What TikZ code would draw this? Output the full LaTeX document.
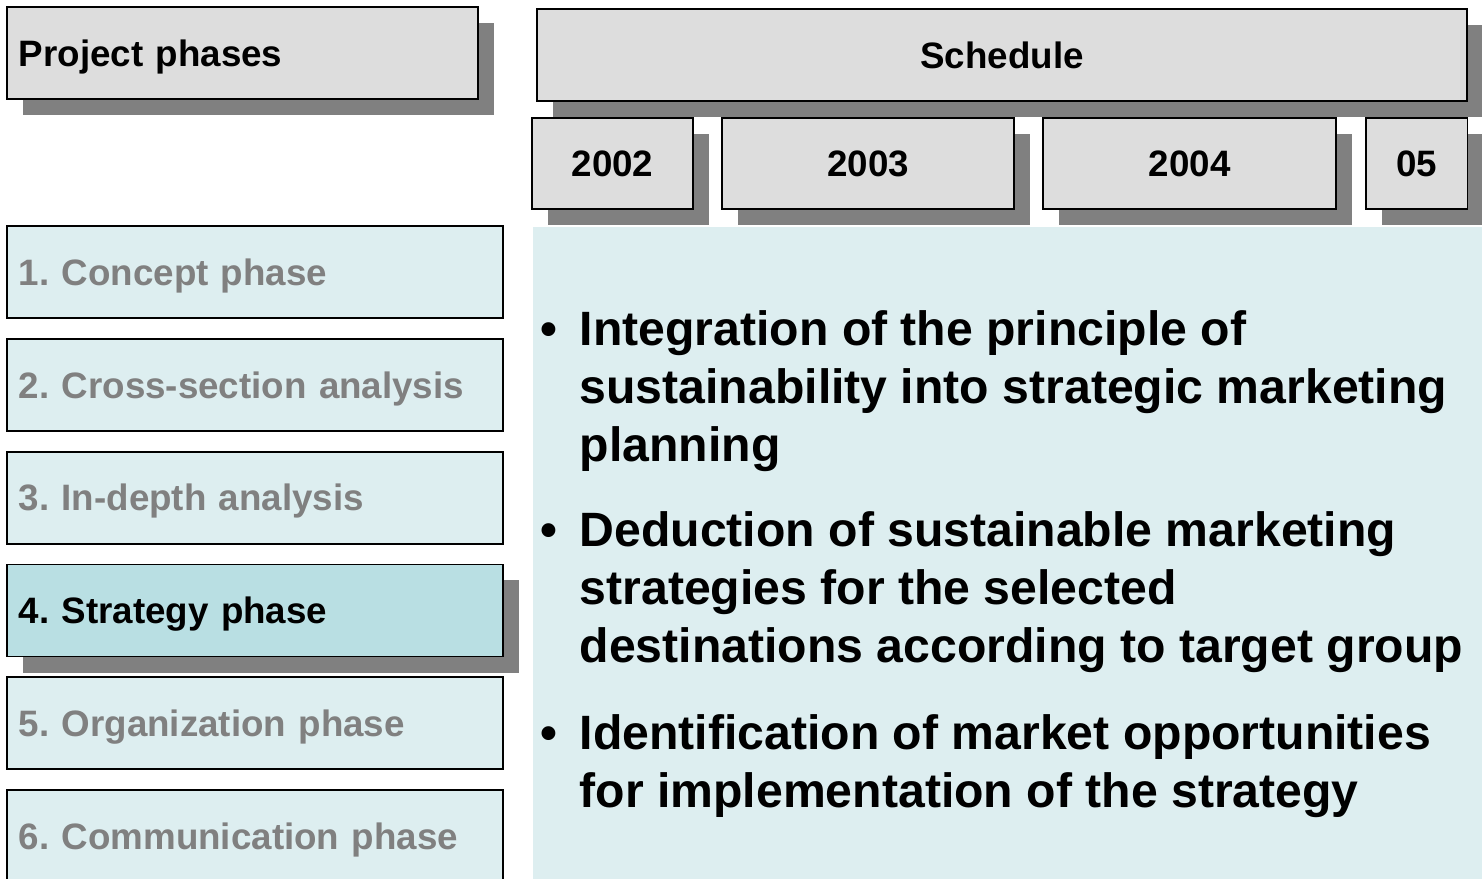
\documentclass[tikz,border=0pt]{standalone}
\usepackage{fontspec}
\setmainfont{Liberation Sans}
\usetikzlibrary{positioning,shadows}

\definecolor{panelblue}{RGB}{221,238,240}
\definecolor{activeblue}{RGB}{185,223,227}
\definecolor{headgrey}{RGB}{221,221,221}
\definecolor{shadowgrey}{RGB}{128,128,128}
\definecolor{idletext}{RGB}{128,128,128}

\newcommand\smallbold{\fontsize{10.45}{12}\selectfont\bfseries}
\newcommand\bigbold{\fontsize{13.7}{16.5}\selectfont\bfseries}

\begin{document}
\frenchspacing
\begin{tikzpicture}[x=0.01cm, y=-0.01cm, node distance=0.19cm]
    \tikzset{shadowed/.style={drop shadow={shadow xshift=0.16cm,
        shadow yshift=-0.16cm, fill=shadowgrey, opacity=1}}}
    \tikzset{header/.style={rectangle, draw=black, line width=0.5pt,
        fill=headgrey, minimum height=0.92cm, inner sep=0pt, font=\smallbold,
        text height=7.5pt, text depth=0pt, shadowed}}
    \tikzset{phase/.style={rectangle, draw=black, line width=0.5pt,
        fill=panelblue, text width=4.72cm, inner xsep=0.12cm, inner ysep=0pt,
        minimum height=0.92cm, align=left, font=\smallbold, text=idletext,
        text height=7.5pt, text depth=0pt}}
    \tikzset{active phase/.style={phase, fill=activeblue, text=black, shadowed}}
    \tikzset{point/.style={inner sep=0pt, anchor=base west, font=\bigbold}}

    \useasboundingbox (0,0) rectangle (1482,879);

    \node (panel) [fill=panelblue, inner sep=0pt, minimum width=9.5cm,
        minimum height=6.53cm, anchor=north west] at (532,226) {};

    % headers
    \node (phases) [header, text width=4.47cm, inner xsep=0.12cm, align=left,
        minimum width=4.71cm] at (242.5,53) {Project phases};
    \node (schedule) [header, minimum width=9.3cm] at (1002,55) {Schedule};
    \node (y2002) [header, minimum width=1.61cm, minimum height=0.91cm]
        at (612.5,163.5) {2002};
    \node (y2003) [header, minimum width=2.92cm, minimum height=0.91cm,
        right=0.272cm of y2002] {2003};
    \node (y2004) [header, minimum width=2.93cm, minimum height=0.91cm,
        right=0.272cm of y2003] {2004};
    \node (y2005) [header, minimum width=1.01cm, minimum height=0.91cm,
        right=0.282cm of y2004] {05};

    % phases
    \node (concept) [phase] at (255,272) {1. Concept phase};
    \node (crosssection) [phase, below=of concept] {2. Cross-section analysis};
    \node (indepth) [phase, below=of crosssection] {3. In-depth analysis};
    \node (strategy) [active phase, below=of indepth] {4. Strategy phase};
    \node (organization) [phase, below=of strategy] {5. Organization phase};
    \node (communication) [phase, below=of organization] {6. Communication phase};

    % content of the strategy phase
    \node (aim1) [point] at (540,345) {\begin{tabular}[t]{@{}p{0.39cm}@{}l@{}}
        • & Integration of the principle of\\
          & sustainability into strategic marketing\\
          & planning
        \end{tabular}};
    \node (aim2) [point] at (540,546) {\begin{tabular}[t]{@{}p{0.39cm}@{}l@{}}
        • & Deduction of sustainable marketing\\
          & strategies for the selected\\
          & destinations according to target group
        \end{tabular}};
    \node (aim3) [point] at (540,749) {\begin{tabular}[t]{@{}p{0.39cm}@{}l@{}}
        • & Identification of market opportunities\\
          & for implementation of the strategy
        \end{tabular}};
\end{tikzpicture}
\end{document}
